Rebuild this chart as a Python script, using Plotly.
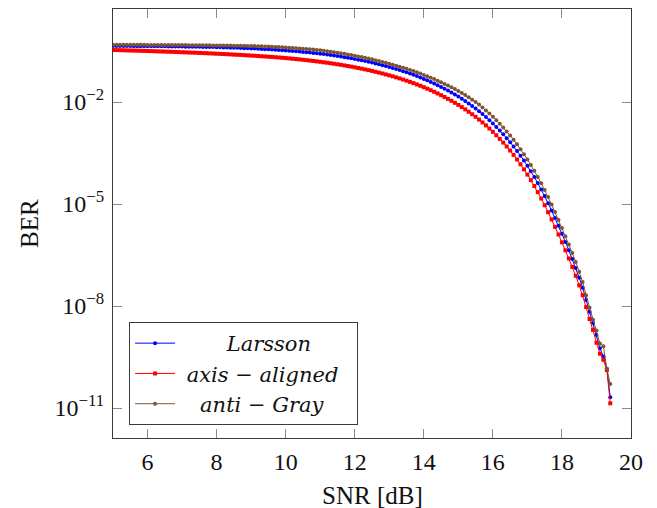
import plotly.graph_objects as go

# ---------------- data ----------------
snr_db = [
    5.0, 5.1, 5.2, 5.3, 5.4, 5.5, 5.6, 5.7, 5.8, 5.9,
    6.0, 6.1, 6.2, 6.3, 6.4, 6.5, 6.6, 6.7, 6.8, 6.9,
    7.0, 7.1, 7.2, 7.3, 7.4, 7.5, 7.6, 7.7, 7.8, 7.9,
    8.0, 8.1, 8.2, 8.3, 8.4, 8.5, 8.6, 8.7, 8.8, 8.9,
    9.0, 9.1, 9.2, 9.3, 9.4, 9.5, 9.6, 9.7, 9.8, 9.9,
    10.0, 10.1, 10.2, 10.3, 10.4, 10.5, 10.6, 10.7, 10.8, 10.9,
    11.0, 11.1, 11.2, 11.3, 11.4, 11.5, 11.6, 11.7, 11.8, 11.9,
    12.0, 12.1, 12.2, 12.3, 12.4, 12.5, 12.6, 12.7, 12.8, 12.9,
    13.0, 13.1, 13.2, 13.3, 13.4, 13.5, 13.6, 13.7, 13.8, 13.9,
    14.0, 14.1, 14.2, 14.3, 14.4, 14.5, 14.6, 14.7, 14.8, 14.9,
    15.0, 15.1, 15.2, 15.3, 15.4, 15.5, 15.6, 15.7, 15.8, 15.9,
    16.0, 16.1, 16.2, 16.3, 16.4, 16.5, 16.6, 16.7, 16.8, 16.9,
    17.0, 17.1, 17.2, 17.3, 17.4, 17.5, 17.6, 17.7, 17.8, 17.9,
    18.0, 18.1, 18.2, 18.3, 18.4, 18.5, 18.6, 18.7, 18.8, 18.9,
    19.0, 19.1, 19.2, 19.3, 19.4,
]

# log10(BER) values
larsson_log10_ber = [
    -0.353, -0.354, -0.354, -0.355, -0.356, -0.356, -0.357, -0.358, -0.359, -0.359,
    -0.360, -0.360, -0.362, -0.362, -0.364, -0.364, -0.366, -0.366, -0.368, -0.369,
    -0.371, -0.372, -0.374, -0.375, -0.377, -0.378, -0.381, -0.382, -0.385, -0.386,
    -0.389, -0.392, -0.395, -0.398, -0.401, -0.405, -0.408, -0.412, -0.416, -0.420,
    -0.424, -0.429, -0.434, -0.440, -0.445, -0.451, -0.456, -0.463, -0.469, -0.476,
    -0.483, -0.491, -0.499, -0.508, -0.516, -0.526, -0.535, -0.546, -0.556, -0.567,
    -0.578, -0.591, -0.604, -0.619, -0.633, -0.649, -0.664, -0.681, -0.698, -0.716,
    -0.734, -0.754, -0.775, -0.796, -0.818, -0.841, -0.865, -0.890, -0.916, -0.943,
    -0.971, -1.000, -1.030, -1.061, -1.094, -1.128, -1.163, -1.200, -1.238, -1.278,
    -1.320, -1.363, -1.408, -1.455, -1.504, -1.555, -1.608, -1.663, -1.720, -1.779,
    -1.841, -1.905, -1.972, -2.042, -2.115, -2.191, -2.271, -2.355, -2.443, -2.535,
    -2.631, -2.733, -2.839, -2.949, -3.063, -3.181, -3.307, -3.439, -3.578, -3.723,
    -3.875, -4.036, -4.206, -4.384, -4.570, -4.765, -4.974, -5.190, -5.412, -5.641,
    -5.875, -6.116, -6.362, -6.618, -6.884, -7.170, -7.460, -7.820, -8.170, -8.500,
    -8.850, -9.240, -9.480, -9.840, -10.680,
]

axis_aligned_log10_ber = [
    -0.470, -0.473, -0.476, -0.479, -0.482, -0.485, -0.488, -0.491, -0.494, -0.497,
    -0.500, -0.503, -0.507, -0.510, -0.514, -0.517, -0.521, -0.524, -0.528, -0.532,
    -0.536, -0.540, -0.544, -0.548, -0.552, -0.556, -0.561, -0.565, -0.570, -0.574,
    -0.579, -0.584, -0.589, -0.594, -0.599, -0.605, -0.610, -0.616, -0.622, -0.628,
    -0.634, -0.640, -0.647, -0.654, -0.661, -0.668, -0.675, -0.683, -0.691, -0.699,
    -0.708, -0.717, -0.727, -0.737, -0.747, -0.758, -0.769, -0.781, -0.793, -0.805,
    -0.818, -0.831, -0.845, -0.860, -0.875, -0.891, -0.907, -0.924, -0.942, -0.960,
    -0.979, -0.999, -1.020, -1.041, -1.063, -1.086, -1.110, -1.135, -1.161, -1.188,
    -1.216, -1.245, -1.275, -1.306, -1.339, -1.373, -1.408, -1.445, -1.483, -1.523,
    -1.565, -1.608, -1.653, -1.700, -1.749, -1.800, -1.853, -1.908, -1.965, -2.024,
    -2.086, -2.150, -2.217, -2.287, -2.360, -2.436, -2.516, -2.600, -2.688, -2.780,
    -2.876, -2.978, -3.084, -3.194, -3.308, -3.426, -3.555, -3.690, -3.832, -3.980,
    -4.135, -4.298, -4.470, -4.650, -4.838, -5.035, -5.240, -5.452, -5.670, -5.895,
    -6.125, -6.360, -6.600, -6.850, -7.110, -7.390, -7.680, -8.030, -8.380, -8.700,
    -9.080, -9.400, -9.580, -9.880, -10.860,
]

anti_gray_log10_ber = [
    -0.315, -0.315, -0.316, -0.316, -0.317, -0.317, -0.318, -0.318, -0.319, -0.319,
    -0.320, -0.320, -0.321, -0.322, -0.322, -0.323, -0.324, -0.324, -0.325, -0.326,
    -0.327, -0.327, -0.328, -0.329, -0.330, -0.331, -0.332, -0.333, -0.334, -0.335,
    -0.336, -0.337, -0.338, -0.339, -0.341, -0.342, -0.344, -0.346, -0.348, -0.350,
    -0.353, -0.356, -0.359, -0.362, -0.366, -0.370, -0.374, -0.379, -0.384, -0.390,
    -0.396, -0.402, -0.409, -0.417, -0.424, -0.432, -0.440, -0.449, -0.459, -0.468,
    -0.478, -0.491, -0.505, -0.520, -0.535, -0.551, -0.567, -0.584, -0.602, -0.620,
    -0.639, -0.659, -0.680, -0.701, -0.723, -0.746, -0.770, -0.795, -0.821, -0.848,
    -0.876, -0.903, -0.931, -0.960, -0.991, -1.023, -1.056, -1.091, -1.127, -1.165,
    -1.205, -1.244, -1.284, -1.327, -1.372, -1.419, -1.467, -1.518, -1.568, -1.621,
    -1.676, -1.735, -1.797, -1.862, -1.930, -2.001, -2.076, -2.160, -2.247, -2.339,
    -2.434, -2.536, -2.641, -2.751, -2.864, -2.982, -3.110, -3.245, -3.386, -3.534,
    -3.688, -3.851, -4.022, -4.202, -4.389, -4.585, -4.796, -5.014, -5.238, -5.469,
    -5.705, -5.944, -6.188, -6.442, -6.706, -6.990, -7.290, -7.680, -8.050, -8.400,
    -8.720, -9.100, -9.180, -9.840, -10.290,
]

series_names = ["<i>Larsson</i>", "<i>axis</i> − <i>aligned</i>", "<i>anti</i> − <i>Gray</i>"]
x_tick_values = [6, 8, 10, 12, 14, 16, 18, 20]
y_tick_values = [1e-2, 1e-5, 1e-8, 1e-11]
y_tick_labels = ["10<sup>−2</sup>", "10<sup>−5</sup>", "10<sup>−8</sup>", "10<sup>−11</sup>"]
x_title = "SNR [dB]"
y_title = "BER"

# ---------------- figure ----------------
NB = "\u00a0"
styles = [
    dict(color="#0000ff", symbol="circle", size=4, pad=7, tail=0),
    dict(color="#ff0000", symbol="square", size=4, pad=1, tail=2),
    dict(color="#7d5533", symbol="circle", size=4, pad=3, tail=0),
]
series = [larsson_log10_ber, axis_aligned_log10_ber, anti_gray_log10_ber]

fig = go.Figure()
for name, vals, st in zip(series_names, series, styles):
    fig.add_trace(go.Scatter(
        x=snr_db,
        y=[10 ** v for v in vals],
        mode="lines+markers",
        name=NB * st["pad"] + name + NB * st["tail"],
        line=dict(color=st["color"], width=1),
        marker=dict(color=st["color"], symbol=st["symbol"], size=st["size"], line=dict(width=0)),
    ))

FONT = "Liberation Serif, DejaVu Serif, serif"
LEGEND_FONT = "DejaVu Serif, Liberation Serif, serif"
TXT = "#111111"
axis_common = dict(
    showline=True, linecolor="#3a3a3a", linewidth=1.2, mirror="allticks",
    ticks="inside", ticklen=9, tickcolor="#8a8a8a", tickwidth=1,
    showgrid=False, zeroline=False, automargin=False,
    tickfont=dict(family=FONT, size=24, color=TXT),
)

# the page body has an 8 px margin, so the figure is drawn 8 px in and 8 px down
fig.update_layout(
    width=649, height=500,
    margin=dict(l=105, r=26, t=1, b=70),
    plot_bgcolor="white", paper_bgcolor="white",
    font=dict(family=FONT, size=21, color=TXT),
    xaxis=dict(
        range=[5, 20], tickvals=x_tick_values,
        ticklabelstandoff=2,
        **axis_common,
    ),
    yaxis=dict(
        type="log", range=[-11.88, 0.735],
        tickvals=y_tick_values, ticktext=y_tick_labels,
        ticklabelstandoff=3,
        **axis_common,
    ),
    legend=dict(
        x=0.031, y=0.2704, xanchor="left", yanchor="top",
        bgcolor="white", bordercolor="#3a3a3a", borderwidth=1,
        font=dict(family=LEGEND_FONT, size=21, color=TXT),
        tracegroupgap=0, itemwidth=40,
    ),
    annotations=[
        dict(text=x_title, xref="paper", yref="paper", x=0.5, y=-0.133,
             xanchor="center", yanchor="middle", showarrow=False,
             font=dict(family=FONT, size=25, color=TXT)),
        dict(text=y_title, xref="paper", yref="paper", x=-0.160, y=0.499,
             xanchor="center", yanchor="middle", showarrow=False, textangle=-90,
             font=dict(family=FONT, size=25, color=TXT)),
    ],
)

fig.write_html("out.html")
